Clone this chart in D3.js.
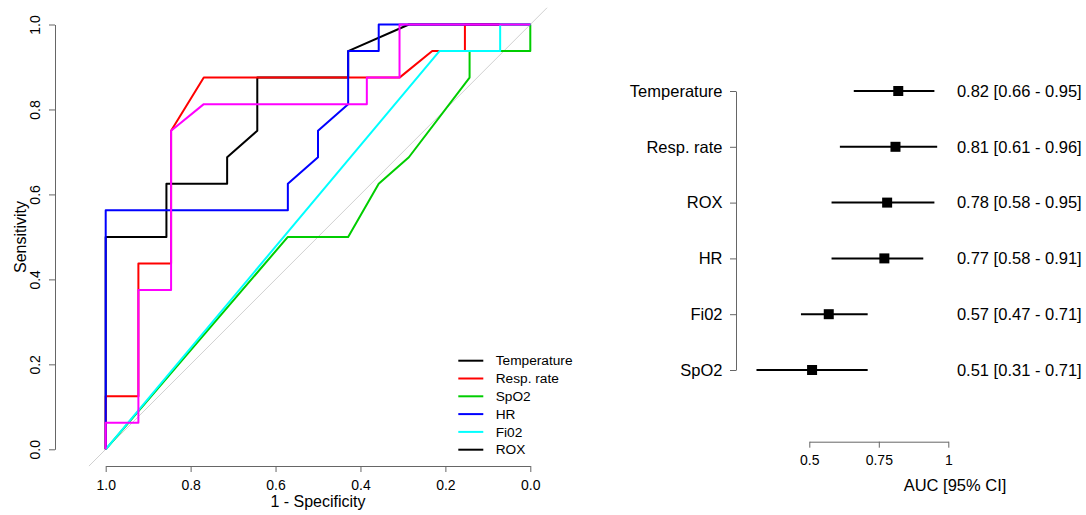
<!DOCTYPE html>
<html>
<head>
<meta charset="utf-8">
<script src="https://cdn.jsdelivr.net/npm/d3@7"></script>
<style>
  html, body { margin: 0; padding: 0; background: #fff; }
  svg { display: block; font-family: "Liberation Sans", Arial, sans-serif; }
</style>
</head>
<body>
<div id="stage"></div>
<script>
// ROC curves: specificity / sensitivity points (pROC order)
const tempSpec = [1, 1, 0.857, 0.857, 0.714, 0.714, 0.643, 0.643, 0.429, 0.429, 0.286, 0];
const tempSens = [0, 0.5, 0.5, 0.625, 0.625, 0.6875, 0.75, 0.875, 0.875, 0.9375, 1, 1];
const respSpec = [1, 1, 0.923, 0.923, 0.846, 0.846, 0.769, 0.308, 0.231, 0.154, 0.154, 0];
const respSens = [0, 0.125, 0.125, 0.4375, 0.4375, 0.75, 0.875, 0.875, 0.9375, 0.9375, 1, 1];
const spo2Spec = [1, 0.571, 0.429, 0.357, 0.286, 0.143, 0.143, 0, 0];
const spo2Sens = [0, 0.5, 0.5, 0.625, 0.6875, 0.875, 0.9375, 0.9375, 1];
const hrSpec = [1, 1, 0.571, 0.571, 0.5, 0.5, 0.429, 0.429, 0.357, 0.357, 0];
const hrSens = [0, 0.5625, 0.5625, 0.625, 0.6875, 0.75, 0.8125, 0.9375, 0.9375, 1, 1];
const fio2Spec = [1, 0.214, 0.071, 0.071, 0];
const fio2Sens = [0, 0.9375, 0.9375, 1, 1];
const roxSpec = [1, 1, 0.923, 0.923, 0.846, 0.846, 0.769, 0.385, 0.385, 0.308, 0.308, 0];
const roxSens = [0, 0.0625, 0.0625, 0.375, 0.375, 0.75, 0.8125, 0.8125, 0.875, 0.875, 1, 1];

const rocNames = ['Temperature', 'Resp. rate', 'SpO2', 'HR', 'Fi02', 'ROX'];
const rocColors = ['#000000', '#FF0000', '#00CD00', '#0000FF', '#00FFFF', '#FF00FF'];
const legendColors = ['#000000', '#FF0000', '#00CD00', '#0000FF', '#00FFFF', '#000000'];
const rocTicks = [1, 0.8, 0.6, 0.4, 0.2, 0];

// forest plot of AUCs
const forestLabels = ['Temperature', 'Resp. rate', 'ROX', 'HR', 'Fi02', 'SpO2'];
const aucEst = [0.82, 0.81, 0.78, 0.77, 0.57, 0.51];
const aucLow = [0.66, 0.61, 0.58, 0.58, 0.47, 0.31];
const aucHigh = [0.95, 0.96, 0.95, 0.91, 0.71, 0.71];
const aucTicks = [0.5, 0.75, 1];

const W = 1086, H = 515;
const FONT = '"Liberation Sans", Arial, sans-serif';
const AXIS_COL = '#666';

const svg = d3.select('#stage').append('svg').attr('width', W).attr('height', H).attr('viewBox', `0 0 ${W} ${H}`);
svg.append('rect').attr('width', W).attr('height', H).attr('fill', '#fff');

// ---------- ROC panel ----------
const x = d3.scaleLinear().domain([1, 0]).range([105.7, 530.3]);
const y = d3.scaleLinear().domain([0, 1]).range([449.3, 24.5]);

const curves = [
  [tempSpec, tempSens], [respSpec, respSens], [spo2Spec, spo2Sens],
  [hrSpec, hrSens], [fio2Spec, fio2Sens], [roxSpec, roxSens]
].map(([sp, se], i) => ({ name: rocNames[i], col: rocColors[i], pts: sp.map((s, j) => [s, se[j]]) }));

// chance diagonal, clipped to the plot region
svg.append('defs').append('clipPath').attr('id', 'rocClip').append('rect')
  .attr('x', 55).attr('y', y(1.04)).attr('width', 540).attr('height', y(-0.04) - y(1.04));
svg.append('line').attr('clip-path', 'url(#rocClip)')
  .attr('x1', x(1.04)).attr('y1', y(-0.04)).attr('x2', x(-0.04)).attr('y2', y(1.04))
  .attr('stroke', '#d0d0d0').attr('stroke-width', 1);

const line = d3.line().x(d => x(d[0])).y(d => y(d[1]));
curves.forEach(c => {
  svg.append('path').datum(c.pts).attr('d', line).attr('fill', 'none')
    .attr('stroke', c.col).attr('stroke-width', 2).attr('stroke-linejoin', 'round');
});

// axes
const xAx = svg.append('g').attr('transform', 'translate(0,466)')
  .call(d3.axisBottom(x).tickValues(rocTicks).tickFormat(d3.format('.1f')).tickSize(6).tickSizeOuter(0).tickPadding(8));
const yAx = svg.append('g').attr('transform', 'translate(55,0)')
  .call(d3.axisLeft(y).tickValues(rocTicks).tickFormat(d3.format('.1f')).tickSize(6).tickSizeOuter(0));
yAx.selectAll('.tick text').attr('x', null).attr('dy', '0.35em').attr('text-anchor', 'middle')
  .attr('transform', 'translate(-20,0) rotate(-90)');
[xAx, yAx].forEach(g => {
  g.selectAll('path, line').attr('stroke', AXIS_COL);
  g.selectAll('text').attr('font-family', FONT).attr('font-size', 14).attr('fill', '#000');
});

svg.append('text').attr('x', 318).attr('y', 507).attr('text-anchor', 'middle')
  .attr('font-family', FONT).attr('font-size', 16).text('1 - Specificity');
svg.append('text').attr('transform', 'translate(20,237) rotate(-90)').attr('dy', '0.35em').attr('text-anchor', 'middle')
  .attr('font-family', FONT).attr('font-size', 16).text('Sensitivity');

// legend
rocNames.forEach((n, i) => {
  const ly = 360.7 + i * 17.8;
  svg.append('line').attr('x1', 458.3).attr('x2', 483.3).attr('y1', ly).attr('y2', ly)
    .attr('stroke', legendColors[i]).attr('stroke-width', 2);
  svg.append('text').attr('x', 495.7).attr('y', ly).attr('dy', '0.35em')
    .attr('font-family', FONT).attr('font-size', 13.7).text(n);
});

// ---------- forest panel ----------
const fx = d3.scaleLinear().domain([0.5, 1]).range([809.3, 948.3]);
const fy = d3.scalePoint().domain(forestLabels).range([91, 370]);

const fyAx = svg.append('g').attr('transform', 'translate(736,0)')
  .call(d3.axisLeft(fy).tickSize(6).tickSizeOuter(0).tickPadding(7.5));
fyAx.selectAll('text').attr('font-size', 16.5);
const fxAx = svg.append('g').attr('transform', 'translate(0,441.7)')
  .call(d3.axisBottom(fx).tickValues(aucTicks).tickFormat(d => d).tickSize(6).tickSizeOuter(0).tickPadding(7.5));
fxAx.selectAll('text').attr('font-size', 14);
[fyAx, fxAx].forEach(g => {
  g.selectAll('path, line').attr('stroke', AXIS_COL);
  g.selectAll('text').attr('font-family', FONT).attr('fill', '#000');
});

forestLabels.forEach((lab, i) => {
  const cy = fy(lab);
  svg.append('line').attr('x1', fx(aucLow[i])).attr('x2', fx(aucHigh[i])).attr('y1', cy).attr('y2', cy)
    .attr('stroke', '#000').attr('stroke-width', 2);
  svg.append('rect').attr('x', fx(aucEst[i]) - 5).attr('y', cy - 5).attr('width', 10).attr('height', 10).attr('fill', '#000');
  svg.append('text').attr('x', 1081.7).attr('y', cy).attr('dy', '0.35em').attr('text-anchor', 'end')
    .attr('font-family', FONT).attr('font-size', 16.5)
    .text(`${aucEst[i].toFixed(2)} [${aucLow[i].toFixed(2)} - ${aucHigh[i].toFixed(2)}]`);
});

svg.append('text').attr('x', 955).attr('y', 491).attr('text-anchor', 'middle')
  .attr('font-family', FONT).attr('font-size', 16.5).text('AUC [95% CI]');
</script>
</body>
</html>
